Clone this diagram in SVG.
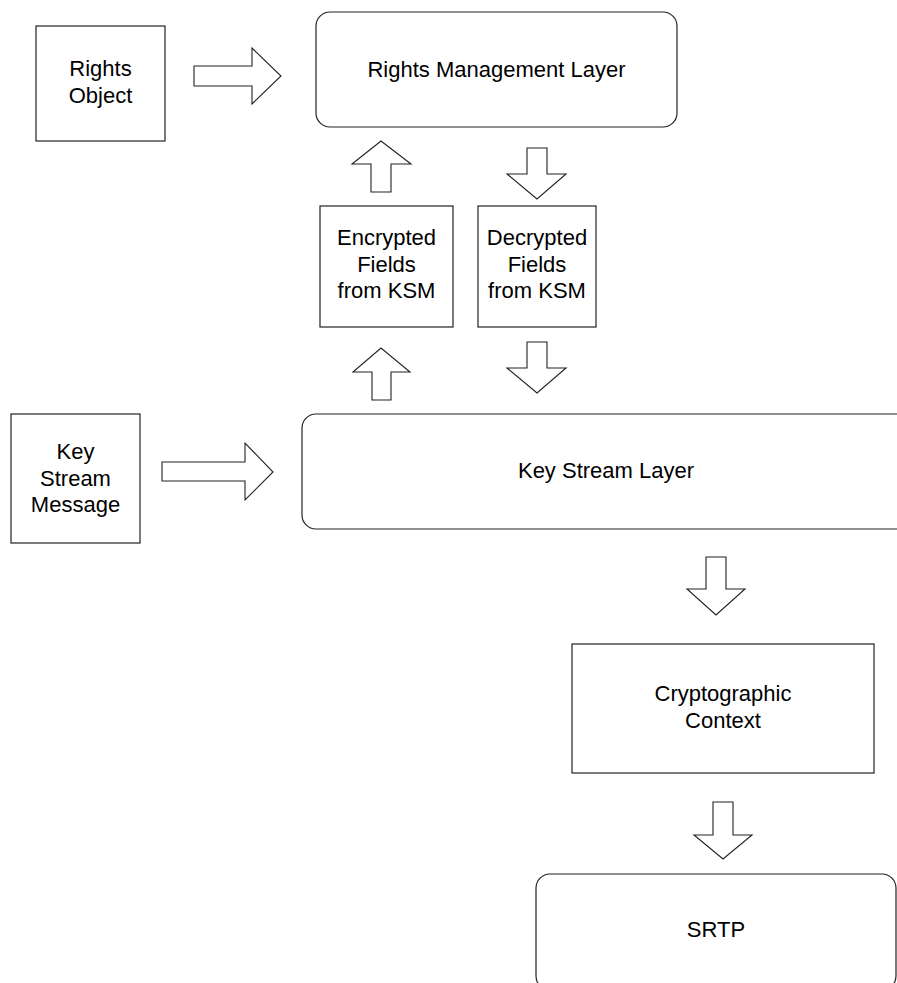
<svg xmlns="http://www.w3.org/2000/svg" width="897" height="983" viewBox="0 0 897 983">
<style>
.box{fill:#fff;stroke:#222;stroke-width:1.2}
.arr{fill:#fff;stroke:#222;stroke-width:1.1;stroke-linejoin:miter}
text{font-family:"Liberation Sans",Arial,sans-serif;font-size:22px;fill:#000;text-anchor:middle}
</style>
<rect width="897" height="983" fill="#fff"/>
<g id="connectors">
<polygon class="arr" points="194,66 252,66 252,48 281,76 252,104 252,86 194,86"/>
<polygon class="arr" points="371,192 371,164 352,164 381,141 411,164 391,164 391,192"/>
<polygon class="arr" points="527,148 547,148 547,174 566,174 537,199 507,174 527,174"/>
<polygon class="arr" points="372,400 372,372 353,372 381,348 410,372 391,372 391,400"/>
<polygon class="arr" points="527,342 547,342 547,368 566,368 537,393 507,368 527,368"/>
<polygon class="arr" points="162,462 245,462 245,443 273,472 245,500 245,481 162,481"/>
<polygon class="arr" points="706,557 726,557 726,589 745,589 716,615 687,589 706,589"/>
<polygon class="arr" points="713,802 733,802 733,835 752,835 723,859 694,835 713,835"/>
</g>
<g id="rights-object">
<rect class="box" x="36" y="26" width="129" height="115"/>
<text x="100.5" y="76">Rights</text>
<text x="100.5" y="103">Object</text>
</g>
<g id="rights-management-layer">
<rect class="box" x="316" y="12" width="361" height="115" rx="14" ry="14"/>
<text x="496.5" y="77">Rights Management Layer</text>
</g>
<g id="encrypted-fields">
<rect class="box" x="320" y="206" width="133" height="121"/>
<text x="386.5" y="245">Encrypted</text>
<text x="386.5" y="271.5">Fields</text>
<text x="386.5" y="298">from KSM</text>
</g>
<g id="decrypted-fields">
<rect class="box" x="478" y="206" width="118" height="121"/>
<text x="537" y="245">Decrypted</text>
<text x="537" y="271.5">Fields</text>
<text x="537" y="298">from KSM</text>
</g>
<g id="key-stream-message">
<rect class="box" x="11" y="414" width="129" height="129"/>
<text x="75.5" y="459">Key</text>
<text x="75.5" y="486">Stream</text>
<text x="75.5" y="512">Message</text>
</g>
<g id="key-stream-layer">
<rect class="box" x="302" y="414" width="610" height="115" rx="14" ry="14"/>
<text x="606" y="478">Key Stream Layer</text>
</g>
<g id="cryptographic-context">
<rect class="box" x="572" y="644" width="302" height="129"/>
<text x="723" y="701">Cryptographic</text>
<text x="723" y="728">Context</text>
</g>
<g id="srtp">
<rect class="box" x="536" y="874" width="360" height="116" rx="14" ry="14"/>
<text x="716" y="937">SRTP</text>
</g>
</svg>
